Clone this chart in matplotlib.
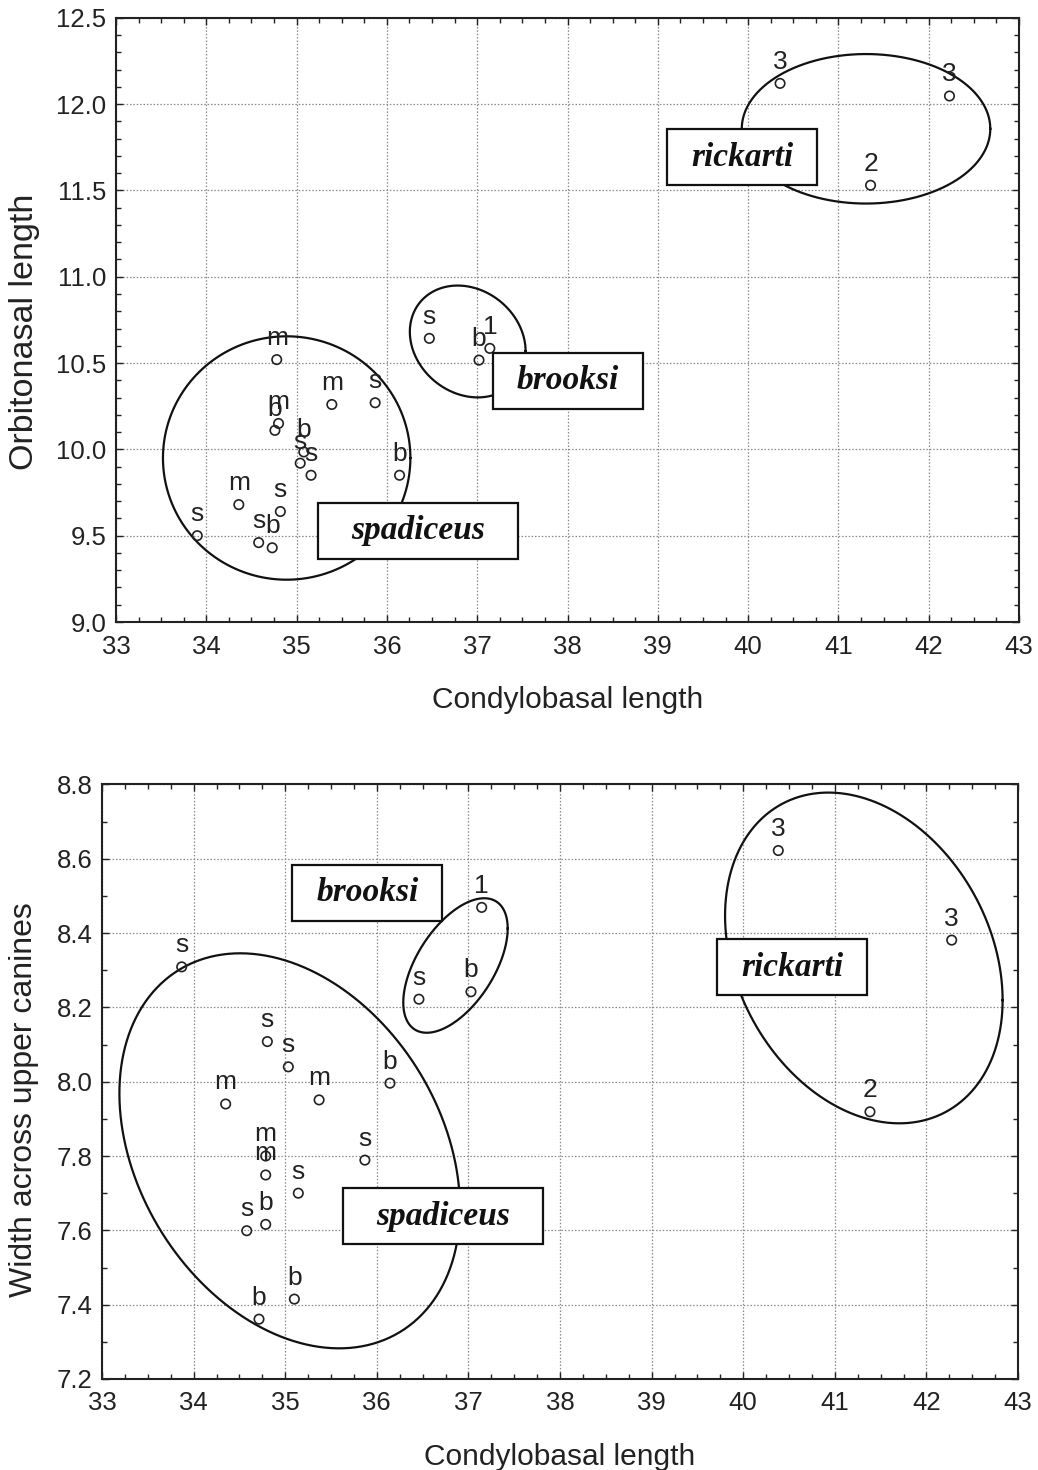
import numpy as np
import matplotlib
matplotlib.use("Agg")
import matplotlib.pyplot as plt
from matplotlib.patches import Rectangle
from matplotlib.transforms import ScaledTranslation
from matplotlib.ticker import MultipleLocator, FormatStrFormatter

plt.rcParams['font.family'] = ['Liberation Sans', 'DejaVu Sans']

# ---------------- data: top panel (Orbitonasal length) ----------------
top_spa_x = [34.78, 34.80, 34.76, 35.39, 35.87, 36.14, 35.08, 35.04, 35.16, 34.36, 34.82, 33.90, 34.58, 34.73]
top_spa_y = [10.52, 10.15, 10.11, 10.26, 10.27, 9.85, 9.985, 9.92, 9.85, 9.68, 9.64, 9.50, 9.46, 9.43]
top_spa_lab = ['m', 'm', 'b', 'm', 's', 'b', 'b', 's', 's', 'm', 's', 's', 's', 'b']
top_bro_x = [36.47, 37.02, 37.14]
top_bro_y = [10.643, 10.517, 10.585]
top_bro_lab = ['s', 'b', '1']
top_ric_x = [40.354, 42.23, 41.356]
top_ric_y = [12.12, 12.047, 11.53]
top_ric_lab = ['3', '3', '2']

# ellipses: x = cx + ax*cos(t), y = cy + ay*cos(t + phase)
top_ell_cx = [34.89, 36.895, 41.306]
top_ell_cy = [9.95, 10.625, 11.857]
top_ell_ax = [1.37, 0.641, 1.376]
top_ell_ay = [0.705, 0.324, 0.433]
top_ell_phase_deg = [90, 100, 90]

top_names = ['spadiceus', 'brooksi', 'rickarti']
top_name_x = [36.347, 38.0, 39.936]
top_name_y = [9.530, 10.397, 11.692]

# ---------------- data: bottom panel (Width across upper canines) ----------------
bot_spa_x = [33.87, 34.805, 35.034, 34.35, 35.37, 36.144, 34.787, 34.787, 35.87, 35.143, 34.58, 34.787, 35.10, 34.714]
bot_spa_y = [8.309, 8.108, 8.040, 7.94, 7.951, 7.996, 7.80, 7.749, 7.789, 7.70, 7.599, 7.616, 7.415, 7.361]
bot_spa_lab = ['s', 's', 's', 'm', 'm', 'b', 'm', 'm', 's', 's', 's', 'b', 'b', 'b']
bot_bro_x = [36.46, 37.028, 37.145]
bot_bro_y = [8.222, 8.242, 8.469]
bot_bro_lab = ['s', 'b', '1']
bot_ric_x = [40.383, 42.276, 41.384]
bot_ric_y = [8.622, 8.381, 7.919]
bot_ric_lab = ['3', '3', '2']

bot_ell_cx = [35.049, 36.859, 41.317]
bot_ell_cy = [7.814, 8.3127, 8.333]
bot_ell_ax = [1.859, 0.570, 1.515]
bot_ell_ay = [0.5315, 0.181, 0.445]
bot_ell_phase_deg = [106.9, 56.6, 104.8]

bot_names = ['spadiceus', 'brooksi', 'rickarti']
bot_name_x = [36.719, 35.898, 40.533]
bot_name_y = [7.638, 8.509, 8.308]

x_label = 'Condylobasal length'
top_ylabel = 'Orbitonasal length'
bot_ylabel = 'Width across upper canines'

# ---------------- styling ----------------
DPI = 100
W_PX, H_PX = 1038, 1470
box_w_px = {'spadiceus': 200, 'brooksi': 150, 'rickarti': 150}
box_h_px = 56

fig = plt.figure(figsize=(W_PX / DPI, H_PX / DPI), dpi=DPI)


def add_axes_px(left, top, right, bottom):
    return fig.add_axes([left / W_PX, 1 - bottom / H_PX, (right - left) / W_PX, (bottom - top) / H_PX])


def style_axes(ax, xlim, ylim, ystep, yminor, ylabel, ylabel_size, ylabel_pos):
    ax.set_xlim(*xlim)
    ax.set_ylim(*ylim)
    ax.xaxis.set_major_locator(MultipleLocator(1))
    ax.xaxis.set_minor_locator(MultipleLocator(0.25))
    ax.yaxis.set_major_locator(MultipleLocator(ystep))
    ax.yaxis.set_minor_locator(MultipleLocator(yminor))
    ax.yaxis.set_major_formatter(FormatStrFormatter('%.1f'))
    ax.xaxis.set_major_formatter(FormatStrFormatter('%d'))
    ax.tick_params(which='both', direction='in', top=True, right=True, width=1.0, color='#222222')
    ax.tick_params(which='major', length=5, labelsize=18.5, labelcolor='#222222')
    ax.tick_params(axis='x', which='major', pad=9)
    ax.tick_params(axis='y', which='major', pad=7)
    ax.tick_params(which='minor', length=3.5)
    for sp in ax.spines.values():
        sp.set_linewidth(1.5)
        sp.set_color('#222222')
    ax.grid(True, which='major', linestyle=(0, (1.2, 1.5)), color='#8a8a8a', linewidth=0.9)
    ax.set_axisbelow(True)
    ax.set_xlabel(x_label, fontsize=21.5, labelpad=20, color='#222222')
    ax.set_ylabel(ylabel, fontsize=ylabel_size, color='#222222', va='center')
    ax.yaxis.set_label_coords(*ylabel_pos)


def draw_group(ax, xs, ys, labs):
    ax.scatter(xs, ys, s=46, facecolors='none', edgecolors='#222222', linewidths=1.2, zorder=4)
    for x, y, l in zip(xs, ys, labs):
        ax.annotate(l, (x, y), xytext=(0, 10.5), textcoords='offset points', ha='center',
                    va='baseline', fontsize=19, color='#222222', zorder=4)


def draw_ellipses(ax, cx, cy, a, b, ph):
    t = np.linspace(0, 2 * np.pi, 500)
    for x0, y0, aa, bb, p in zip(cx, cy, a, b, ph):
        ax.plot(x0 + aa * np.cos(t), y0 + bb * np.cos(t + np.deg2rad(p)),
                color='#111111', lw=1.6, zorder=3)


def draw_names(ax, names, xs, ys):
    for n, x, y in zip(names, xs, ys):
        w = box_w_px[n] / DPI
        h = box_h_px / DPI
        tr = fig.dpi_scale_trans + ScaledTranslation(x, y, ax.transData)
        ax.add_patch(Rectangle((-w / 2, -h / 2), w, h, transform=tr, facecolor='white',
                               edgecolor='#111111', lw=1.6, zorder=5, clip_on=False))
        ax.text(x, y, n, ha='center', va='center', fontsize=24, family='Liberation Serif',
                fontweight='bold', fontstyle='italic', color='#111111', zorder=6)


# top panel
ax1 = add_axes_px(116, 17.8, 1019, 622)
style_axes(ax1, (33, 43), (9.0, 12.5), 0.5, 0.1, top_ylabel, 24.5, (-0.101, 0.48))
draw_ellipses(ax1, top_ell_cx, top_ell_cy, top_ell_ax, top_ell_ay, top_ell_phase_deg)
draw_group(ax1, top_spa_x, top_spa_y, top_spa_lab)
draw_group(ax1, top_bro_x, top_bro_y, top_bro_lab)
draw_group(ax1, top_ric_x, top_ric_y, top_ric_lab)
draw_names(ax1, top_names, top_name_x, top_name_y)

# bottom panel
ax2 = add_axes_px(102, 784.4, 1018, 1379)
style_axes(ax2, (33, 43), (7.2, 8.8), 0.2, 0.1, bot_ylabel, 23, (-0.085, 0.47))
draw_ellipses(ax2, bot_ell_cx, bot_ell_cy, bot_ell_ax, bot_ell_ay, bot_ell_phase_deg)
draw_group(ax2, bot_spa_x, bot_spa_y, bot_spa_lab)
draw_group(ax2, bot_bro_x, bot_bro_y, bot_bro_lab)
draw_group(ax2, bot_ric_x, bot_ric_y, bot_ric_lab)
draw_names(ax2, bot_names, bot_name_x, bot_name_y)

fig.savefig('out.png', dpi=DPI, facecolor='white')
